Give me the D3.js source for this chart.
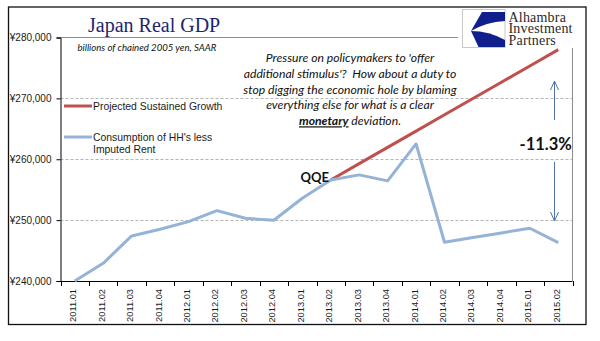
<!DOCTYPE html>
<html>
<head>
<meta charset="utf-8">
<script src="https://d3js.org/d3.v7.min.js"></script>
<style>
    html, body { margin: 0; padding: 0; background: #ffffff; }
    svg { display: block; }
</style>
</head>
<body>
<svg id="chart" width="600" height="341"></svg>
<script>
    // Chart values
    var quarters = ["2011.01", "2011.02", "2011.03", "2011.04",
                    "2012.01", "2012.02", "2012.03", "2012.04",
                    "2013.01", "2013.02", "2013.03", "2013.04",
                    "2014.01", "2014.02", "2014.03", "2014.04",
                    "2015.01", "2015.02"];

    var consumption = [240000, 242900, 247400, 248500, 249750, 251560, 250300, 249980,
                       253600, 256600, 257430, 256450, 262530, 246370, 247150, 247900,
                       248670, 246300];

    var projected = [null, null, null, null, null, null, null, null, null,
                     256600, 259275, 261950, 264625, 267300, 269975, 272650, 275325, 278000];

    var yTicks = [240000, 250000, 260000, 270000, 280000];

    var seriesNames = ["Projected Sustained Growth", "Consumption of HH's less", "Imputed Rent"];

    var noteLines = ["Pressure on policymakers to 'offer",
                     "additional stimulus'?  How about a duty to",
                     "stop digging the economic hole by blaming",
                     "everything else for what is a clear"];

    const RED = "#c0504d";
    const BLUE = "#95b3d7";
    const ARROW = "#4f74a8";
    const CALIBRI = "Lato, 'Liberation Sans', sans-serif";

    var svg = d3.select("#chart");

    var plotLeft = 60.5, plotRight = 572.5, plotTop = 37.5, plotBottom = 281;

    var x = d3.scaleBand().domain(quarters).range([plotLeft, plotRight]).padding(0);
    var y = d3.scaleLinear().domain([240000, 280000]).range([plotBottom, plotTop]);

    // Outer chart border
    svg.append("rect")
        .attr("x", 8.5).attr("y", 7)
        .attr("width", 577.5).attr("height", 317.5)
        .attr("fill", "none")
        .attr("stroke", "#111")
        .attr("stroke-width", 1.3);

    // Dashed gridlines
    svg.append("g")
        .selectAll("line")
        .data(yTicks.slice(1, 4))
        .enter().append("line")
            .attr("x1", plotLeft).attr("x2", plotRight)
            .attr("y1", function(d) { return Math.round(y(d)) + 0.5; })
            .attr("y2", function(d) { return Math.round(y(d)) + 0.5; })
            .attr("stroke", "#b4b4b4")
            .attr("stroke-dasharray", "3,2");

    // Plot area frame (top and right)
    svg.append("path")
        .attr("d", "M" + plotLeft + "," + plotTop + "H" + plotRight + "V" + plotBottom)
        .attr("fill", "none")
        .attr("stroke", "#8c8c8c");

    // Y axis
    var yAxis = svg.append("g")
        .attr("transform", "translate(" + plotLeft + ",0)")
        .call(d3.axisLeft(y)
            .tickValues(yTicks)
            .tickSize(4)
            .tickPadding(5)
            .tickFormat(function(d) { return "¥" + d3.format(",")(d); }));
    yAxis.select(".domain").attr("stroke", "#000");
    yAxis.selectAll(".tick line").attr("stroke", "#000");
    yAxis.selectAll("text")
        .attr("font-family", "'Liberation Sans', Arial, sans-serif")
        .attr("font-size", "10px")
        .attr("fill", "#1a1a1a");

    // X axis: ticks at category boundaries
    var xAxisGroup = svg.append("g");
    xAxisGroup.append("line")
        .attr("x1", plotLeft).attr("x2", plotRight)
        .attr("y1", plotBottom + 0.5).attr("y2", plotBottom + 0.5)
        .attr("stroke", "#000");
    xAxisGroup.selectAll("line.tick")
        .data(quarters.concat(["end"]))
        .enter().append("line")
            .attr("class", "tick")
            .attr("x1", function(d, i) { return Math.round(plotLeft + i * x.bandwidth()) + 0.5; })
            .attr("x2", function(d, i) { return Math.round(plotLeft + i * x.bandwidth()) + 0.5; })
            .attr("y1", plotBottom)
            .attr("y2", plotBottom + 5)
            .attr("stroke", "#000");
    xAxisGroup.selectAll("text")
        .data(quarters)
        .enter().append("text")
            .attr("transform", function(d) {
                return "translate(" + (x(d) + x.bandwidth() / 2 + 1.5) + "," + (plotBottom + 8) + ") rotate(-90)";
            })
            .attr("text-anchor", "end")
            .attr("font-family", "'Liberation Sans', Arial, sans-serif")
            .attr("font-size", "9.3px")
            .attr("fill", "#1a1a1a")
            .text(function(d) { return d; });

    // Series lines
    var line = d3.line()
        .defined(function(d) { return d != null; })
        .x(function(d, i) { return x(quarters[i]) + x.bandwidth() / 2; })
        .y(function(d) { return y(d); });

    svg.append("path")
        .datum(projected)
        .attr("d", line)
        .attr("fill", "none")
        .attr("stroke", RED)
        .attr("stroke-width", 3)
        .attr("stroke-linejoin", "round");

    svg.append("path")
        .datum(consumption)
        .attr("d", line)
        .attr("fill", "none")
        .attr("stroke", BLUE)
        .attr("stroke-width", 3)
        .attr("stroke-linejoin", "round");

    // Title and subtitle
    svg.append("text")
        .attr("x", 88).attr("y", 31.5)
        .attr("font-family", "'Liberation Serif', 'Times New Roman', serif")
        .attr("font-size", "20px")
        .attr("fill", "#1f2470")
        .text("Japan Real GDP");

    svg.append("text")
        .attr("x", 77.5).attr("y", 50.5)
        .attr("font-family", CALIBRI)
        .attr("font-style", "italic")
        .attr("font-size", "9.6px")
        .attr("fill", "#111")
        .text("billions of chained 2005 yen, SAAR");

    // Legend
    var legend = svg.append("g");
    legend.append("line")
        .attr("x1", 64).attr("x2", 92).attr("y1", 106).attr("y2", 106)
        .attr("stroke", RED).attr("stroke-width", 3);
    legend.append("line")
        .attr("x1", 64).attr("x2", 92).attr("y1", 137).attr("y2", 137)
        .attr("stroke", BLUE).attr("stroke-width", 3);
    legend.selectAll("text")
        .data([[seriesNames[0], 109.5], [seriesNames[1], 140.5], [seriesNames[2], 153]])
        .enter().append("text")
            .attr("x", 93).attr("y", function(d) { return d[1]; })
            .attr("font-family", "'Liberation Sans', Arial, sans-serif")
            .attr("font-size", "10.4px")
            .attr("fill", "#1a1a1a")
            .text(function(d) { return d[0]; });

    // Commentary
    var note = svg.append("g")
        .attr("font-family", CALIBRI)
        .attr("font-style", "italic")
        .attr("font-size", "12.2px")
        .attr("fill", "#111");
    note.selectAll("text.line")
        .data(noteLines)
        .enter().append("text")
            .attr("class", "line")
            .attr("x", 350)
            .attr("y", function(d, i) { return 61.7 + i * 15.9; })
            .attr("text-anchor", "middle")
            .attr("xml:space", "preserve")
            .text(function(d) { return d; });
    var lastLine = note.append("text")
        .attr("x", 350).attr("y", 125.3)
        .attr("text-anchor", "middle");
    lastLine.append("tspan")
        .attr("font-weight", "bold")
        .attr("text-decoration", "underline")
        .text("monetary");
    lastLine.append("tspan").text(" deviation.");

    // QQE marker
    svg.append("text")
        .attr("x", 300.5).attr("y", 181.7)
        .attr("font-family", CALIBRI)
        .attr("font-weight", "bold")
        .attr("font-size", "13px")
        .attr("fill", "#111")
        .text("QQE");

    // Gap annotation
    svg.append("text")
        .attr("x", 519.5).attr("y", 150.3)
        .attr("font-family", CALIBRI)
        .attr("font-weight", "bold")
        .attr("font-size", "16.5px")
        .attr("fill", "#111")
        .text("-11.3%");

    var arrows = svg.append("g")
        .attr("fill", "none")
        .attr("stroke", ARROW)
        .attr("stroke-width", 1);
    arrows.append("line").attr("x1", 554.5).attr("x2", 554.5).attr("y1", 120).attr("y2", 81);
    arrows.append("path").attr("d", "M550.5,90L554.5,81L558.5,90");
    arrows.append("line").attr("x1", 554.5).attr("x2", 554.5).attr("y1", 162).attr("y2", 221);
    arrows.append("path").attr("d", "M550.5,212L554.5,221L558.5,212");

    // Company logo
    var logo = svg.append("g");
    logo.append("rect")
        .attr("x", 458).attr("y", 8)
        .attr("width", 127).attr("height", 40)
        .attr("fill", "#fff");
    logo.append("rect")
        .attr("x", 462.5).attr("y", 9.5)
        .attr("width", 42.5).attr("height", 38)
        .attr("fill", "#fff")
        .attr("stroke", "#c8c8c8");
    logo.append("path")
        .attr("d", "M482,12L505,12L505,21Q486,22 471,31Z")
        .attr("fill", "#101f8c");
    logo.append("path")
        .attr("d", "M471,31Q489,31 505,40L505,47L478.5,47Z")
        .attr("fill", "#101f8c");
    logo.selectAll("text")
        .data([["Alhambra", 21.5], ["Investment", 33.3], ["Partners", 45]])
        .enter().append("text")
            .attr("x", 508.5).attr("y", function(d) { return d[1]; })
            .attr("font-family", "'Liberation Serif', 'Times New Roman', serif")
            .attr("font-size", "14px")
            .attr("letter-spacing", "0.2px")
            .attr("fill", "#2a2a2a")
            .text(function(d) { return d[0]; });
</script>
</body>
</html>
